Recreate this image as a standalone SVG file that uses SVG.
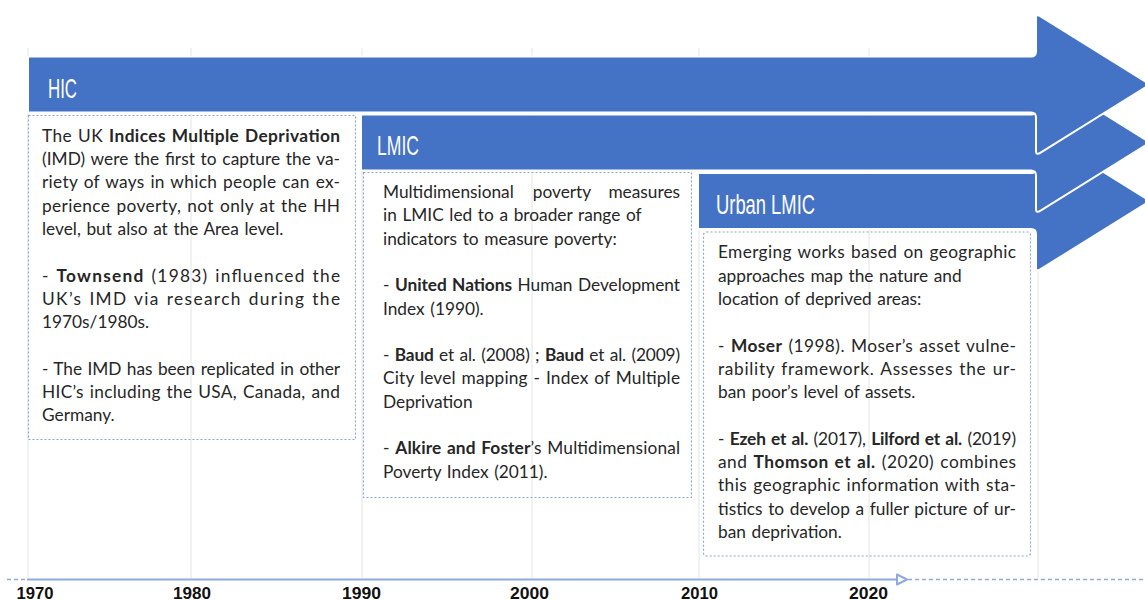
<svg xmlns="http://www.w3.org/2000/svg" width="1145" height="600" viewBox="0 0 1145 600">
<style>
.grid{stroke:#e4e4e4;stroke-width:1}
.arrow{fill:#4472c4;stroke:#ffffff;stroke-width:2;stroke-linejoin:round}
.hdr{font-family:"Liberation Sans Narrow","Liberation Sans",sans-serif;font-size:28px;fill:#ffffff}
.box{fill:none;stroke:#8ea5cf;stroke-width:1.2;stroke-dasharray:2 2}
.t{font-family:Lato,"Liberation Sans",sans-serif;font-size:17.3px;word-spacing:1.2px;fill:#262626}
.b{font-weight:700}
.yr{font-family:"Liberation Sans Narrow","Liberation Sans",sans-serif;font-size:16px;font-weight:700;fill:#111111}
.axis{stroke:#8faadc;stroke-width:2;fill:none}
.axd{stroke:#8faadc;stroke-width:1.5;stroke-dasharray:4 3;fill:none}
</style>
<rect width="1145" height="600" fill="#ffffff"/>
<g id="grid">
<line class="grid" x1="28" y1="48" x2="28" y2="578"/>
<line class="grid" x1="191" y1="48" x2="191" y2="578"/>
<line class="grid" x1="362" y1="48" x2="362" y2="578"/>
<line class="grid" x1="532" y1="48" x2="532" y2="578"/>
<line class="grid" x1="699" y1="48" x2="699" y2="578"/>
<line class="grid" x1="869" y1="48" x2="869" y2="578"/>
<line class="grid" x1="1038" y1="48" x2="1038" y2="578"/>
</g>
<g id="urban-lmic">
<path class="arrow" d="M698 173 H1031 Q1036 173 1036 168 V134 Q1036 130 1041 133.1 L1150 201 L1041 268.9 Q1036 272 1036 268 V234 Q1036 229 1031 229 H698 Z"/>
<text class="hdr" x="716" y="214" textLength="99" lengthAdjust="spacingAndGlyphs">Urban LMIC</text>
<rect class="box" x="703.5" y="232" width="327" height="324" rx="3"/>
<text class="t" x="718" y="258.3" textLength="298">Emerging works based on geographic</text>
<text class="t" x="718" y="281.6">approaches map the nature and</text>
<text class="t" x="718" y="304.9">location of deprived areas:</text>
<text class="t" x="718" y="351.5" textLength="298">- <tspan class="b">Moser</tspan> (1998). Moser’s asset vulne-</text>
<text class="t" x="718" y="374.8" textLength="298">rability framework. Assesses the ur-</text>
<text class="t" x="718" y="398.1">ban poor’s level of assets.</text>
<text class="t" x="718" y="444.7" textLength="298">- <tspan class="b">Ezeh et al.</tspan> (2017), <tspan class="b">Lilford et al.</tspan> (2019)</text>
<text class="t" x="718" y="468" textLength="298">and <tspan class="b">Thomson et al.</tspan> (2020) combines</text>
<text class="t" x="718" y="491.3" textLength="298">this geographic information with sta-</text>
<text class="t" x="718" y="514.6" textLength="298">tistics to develop a fuller picture of ur-</text>
<text class="t" x="718" y="537.9">ban deprivation.</text>
</g>
<g id="lmic">
<path class="arrow" d="M361 114.5 H1031 Q1036 114.5 1036 109.5 V75.5 Q1036 71.5 1041 74.6 L1150 142.5 L1041 210.4 Q1036 213.5 1036 209.5 V175.5 Q1036 170.5 1031 170.5 H361 Z"/>
<text class="hdr" x="377" y="155" textLength="42" lengthAdjust="spacingAndGlyphs">LMIC</text>
<rect class="box" x="363.5" y="172.5" width="328" height="325"/>
<text class="t" y="198"><tspan x="383" text-anchor="start">Multidimensional</tspan><tspan x="562" text-anchor="middle">poverty</tspan><tspan x="680" text-anchor="end">measures</tspan></text>
<text class="t" x="383" y="221.3">in LMIC led to a broader range of</text>
<text class="t" x="383" y="244.6">indicators to measure poverty:</text>
<text class="t" x="383" y="291.2" textLength="297">- <tspan class="b">United Nations</tspan> Human Development</text>
<text class="t" x="383" y="314.5">Index (1990).</text>
<text class="t" x="383" y="361.1" textLength="297">- <tspan class="b">Baud</tspan> et al. (2008) ; <tspan class="b">Baud</tspan> et al. (2009)</text>
<text class="t" x="383" y="384.4" textLength="297">City level mapping - Index of Multiple</text>
<text class="t" x="383" y="407.7">Deprivation</text>
<text class="t" x="383" y="454.3" textLength="297">- <tspan class="b">Alkire and Foster</tspan>’s Multidimensional</text>
<text class="t" x="383" y="477.6">Poverty Index (2011).</text>
</g>
<g id="hic">
<path class="arrow" d="M28 56.5 H1031 Q1036 56.5 1036 51.5 V17.5 Q1036 13.5 1041 16.6 L1150 84.5 L1041 152.4 Q1036 155.5 1036 151.5 V117.5 Q1036 112.5 1031 112.5 H28 Z"/>
<text class="hdr" x="48" y="98" textLength="29" lengthAdjust="spacingAndGlyphs">HIC</text>
<rect class="box" x="28.5" y="115.5" width="327" height="324"/>
<text class="t" x="42" y="141.7" textLength="298">The UK <tspan class="b">Indices Multiple Deprivation</tspan></text>
<text class="t" x="42" y="165" textLength="298">(IMD) were the first to capture the va-</text>
<text class="t" x="42" y="188.3" textLength="298">riety of ways in which people can ex-</text>
<text class="t" x="42" y="211.6" textLength="298">perience poverty, not only at the HH</text>
<text class="t" x="42" y="234.9">level, but also at the Area level.</text>
<text class="t" x="42" y="281.5" textLength="298">- <tspan class="b">Townsend</tspan> (1983) influenced the</text>
<text class="t" x="42" y="304.8" textLength="298">UK’s IMD via research during the</text>
<text class="t" x="42" y="328.1">1970s/1980s.</text>
<text class="t" x="42" y="374.7" textLength="298">- The IMD has been replicated in other</text>
<text class="t" x="42" y="398" textLength="298">HIC’s including the USA, Canada, and</text>
<text class="t" x="42" y="421.3">Germany.</text>
</g>
<g id="connectors">
<line class="axd" x1="7" y1="579.5" x2="27" y2="579.5"/>
<line class="axis" x1="27" y1="579.5" x2="897" y2="579.5"/>
<polygon points="897,574.5 907,579.5 897,584.5" fill="#ffffff" stroke="#8faadc" stroke-width="2" stroke-linejoin="round"/>
<line class="axd" x1="908" y1="579.5" x2="1145" y2="579.5"/>
</g>
<g id="years">
<text class="yr" x="35" y="599" text-anchor="middle" textLength="37" lengthAdjust="spacingAndGlyphs">1970</text>
<text class="yr" x="192" y="599" text-anchor="middle" textLength="38" lengthAdjust="spacingAndGlyphs">1980</text>
<text class="yr" x="361.5" y="599" text-anchor="middle" textLength="39" lengthAdjust="spacingAndGlyphs">1990</text>
<text class="yr" x="529.5" y="599" text-anchor="middle" textLength="39" lengthAdjust="spacingAndGlyphs">2000</text>
<text class="yr" x="699.5" y="599" text-anchor="middle" textLength="37" lengthAdjust="spacingAndGlyphs">2010</text>
<text class="yr" x="868.5" y="599" text-anchor="middle" textLength="39" lengthAdjust="spacingAndGlyphs">2020</text>
</g>
</svg>
